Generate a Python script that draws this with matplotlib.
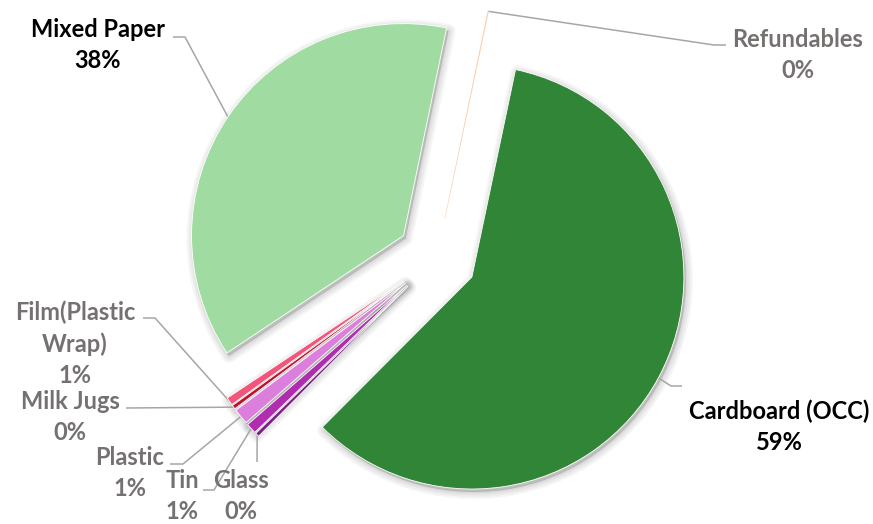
import numpy as np
import matplotlib.pyplot as plt
from matplotlib.patches import Wedge

# slice data, clockwise starting just right of 12 o'clock
categories = ['Refundables', 'Cardboard (OCC)', 'Glass', 'Tin', 'Plastic',
              'Milk Jugs', 'Film(Plastic\nWrap)', 'Mixed Paper']
shares = [0.05, 59.2, 0.3, 0.8, 1.2, 0.3, 0.6, 37.6]
colors = ['#FAD3B5', '#318536', '#7A1F86', '#B02DB0', '#DC7FDC',
          '#C0122F', '#F2557A', '#A0DCA2']
dark_labels = ['Cardboard (OCC)', 'Mixed Paper']

# label layout in pixel coords (x centre, y centre of block)
label_pos = {
    'Refundables': (798, 55),
    'Cardboard (OCC)': (779, 427),
    'Glass': (241, 496),
    'Tin': (182, 496),
    'Plastic': (130, 473),
    'Milk Jugs': (70, 417),
    'Film(Plastic\nWrap)': (75, 344),
    'Mixed Paper': (98, 45),
}
# where the leader line leaves the label (pixel coords), plus short horizontal stub
leader_start = {
    'Refundables': [(726, 45), (714, 45)],
    'Cardboard (OCC)': [(682, 386), (671, 386)],
    'Glass': [(257, 462)],
    'Tin': [(203, 490), (214, 490)],
    'Plastic': [(170, 464), (183, 464)],
    'Milk Jugs': [(126, 408)],
    'Film(Plastic\nWrap)': [(143, 318), (155, 318)],
    'Mixed Paper': [(173, 37), (185, 37)],
}

W, H = 873, 524
fig = plt.figure(figsize=(W / 100, H / 100), dpi=100)
ax = fig.add_axes([0, 0, 1, 1])

R = 212
cx, cy = 436.7, H - 258
total = sum(shares)

# soft shadow: stacked translucent wedges, drawn first
ang = 90 - 11.7
for s in shares:
    span = 360 * s / total
    t1, t2 = ang - span, ang
    tm = np.radians((t1 + t2) / 2)
    x0, y0 = cx + 40 * np.cos(tm), cy + 40 * np.sin(tm)
    if span > 2:
        for lw in [10, 7, 4, 1.5]:
            ax.add_patch(Wedge((x0 + 2, y0 - 3), R, t1, t2, facecolor='#000000',
                               edgecolor='#000000', linewidth=lw, alpha=0.04,
                               zorder=0.5, joinstyle='round'))
    ang = t1

wedges, _ = ax.pie(shares, explode=[40] * len(shares), startangle=90 - 11.7,
                   counterclock=False, colors=colors, radius=R, center=(cx, cy),
                   wedgeprops=dict(edgecolor='white', linewidth=0.6))
wedges[0].set_edgecolor(colors[0])
wedges[0].set_linewidth(0.4)
for w in wedges:
    w.set_zorder(2)

font = ['Lato', 'DejaVu Sans']
for w, name, s in zip(wedges, categories, shares):
    tm = np.radians((w.theta1 + w.theta2) / 2)
    ex = w.center[0] + w.r * np.cos(tm)
    ey = w.center[1] + w.r * np.sin(tm)
    pts = [(px, H - py) for px, py in leader_start[name]] + [(ex, ey)]
    xs, ys = zip(*pts)
    ax.plot(xs, ys, color='#A6A6A6', lw=1.1, zorder=1.5, solid_capstyle='butt')
    lx, ly = label_pos[name]
    col = '#000000' if name in dark_labels else '#757171'
    ax.text(lx, H - ly, f'{name}\n{round(s)}%', ha='center', va='center',
            fontsize=17, fontweight='bold', color=col, family=font,
            linespacing=1.42, zorder=3)

ax.set_xlim(0, W)
ax.set_ylim(0, H)
ax.set_aspect('equal')
ax.axis('off')
fig.savefig('out.png', dpi=100)
